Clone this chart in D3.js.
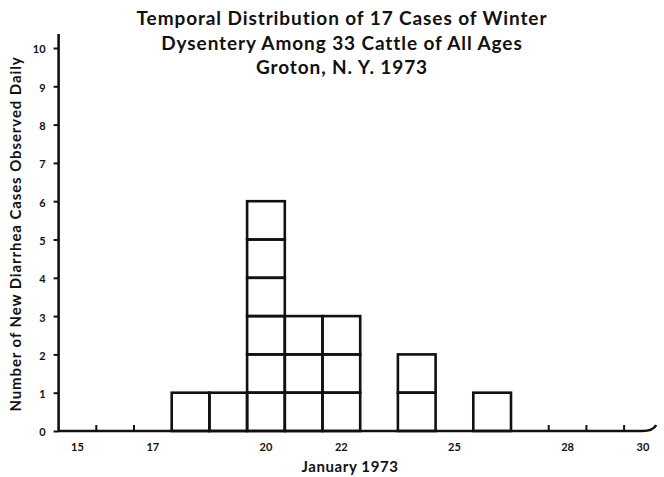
<!DOCTYPE html>
<html>
<head>
<meta charset="utf-8">
<script src="https://cdn.jsdelivr.net/npm/d3@7"></script>
<style>
  body { margin: 0; background: #fff; }
  svg { display: block; }
  text { font-family: Lato, "DejaVu Sans", sans-serif; font-weight: bold; fill: #111; }
</style>
</head>
<body>
<svg id="chart" width="664" height="477"></svg>
<script>
// cases per day, January 1973
const days = [18, 19, 20, 21, 22, 24, 26];
const cases = [1, 1, 6, 3, 3, 2, 1];
const xTickLabels = [15, 17, 20, 22, 25, 28, 30];
const xTickMarks = [16, 17, 28, 29, 30];
const yTicks = [0, 1, 2, 3, 4, 5, 6, 7, 8, 9, 10];
const titleLines = [
  'Temporal Distribution of 17 Cases of Winter',
  'Dysentery Among 33 Cattle of All Ages',
  'Groton, N. Y. 1973'
];

const svg = d3.select('#chart');

// each day is one band, left edge of day 15 at the y axis
const x = d3.scaleLinear().domain([15, 31]).range([58.6, 661.8]);
const y = d3.scaleLinear().domain([0, 10]).range([431, 48]);

const ink = '#111';

// one box per case
const boxes = [];
days.forEach((d, i) => {
  for (let k = 0; k < cases[i]; k++) boxes.push({ day: d, level: k });
});

svg.append('g')
  .selectAll('rect')
  .data(boxes)
  .enter()
  .append('rect')
  .attr('x', (d) => x(d.day))
  .attr('y', (d) => y(d.level + 1))
  .attr('width', x(d3.min(days) + 1) - x(d3.min(days)))
  .attr('height', y(0) - y(1))
  .attr('fill', 'none')
  .attr('stroke', ink)
  .attr('stroke-width', 2.6);

// y axis
const yAxis = d3.axisLeft(y).tickValues(yTicks).tickSize(5).tickPadding(8);
const gy = svg.append('g')
  .attr('transform', `translate(${x(15)}, 0)`)
  .call(yAxis);
gy.select('.domain').remove();
gy.selectAll('.tick line').attr('stroke', ink).attr('stroke-width', 2);
gy.selectAll('.tick text').attr('font-size', 11).attr('dy', '0.45em');
svg.append('line')
  .attr('x1', x(15)).attr('x2', x(15))
  .attr('y1', 34).attr('y2', y(0) + 1)
  .attr('stroke', ink).attr('stroke-width', 2.6);

// x axis baseline with the slight upturn at the right end
const xEnd = x(30.85);
svg.append('path')
  .attr('d', `M${x(15)},${y(0)} L${xEnd - 14},${y(0)} Q${xEnd - 3},${y(0)} ${xEnd},${y(0) - 6}`)
  .attr('fill', 'none')
  .attr('stroke', ink)
  .attr('stroke-width', 2.6);

svg.append('g')
  .selectAll('line')
  .data(xTickMarks)
  .enter()
  .append('line')
  .attr('x1', (d) => x(d)).attr('x2', (d) => x(d))
  .attr('y1', y(0)).attr('y2', y(0) - 6)
  .attr('stroke', ink).attr('stroke-width', 2);

svg.append('g')
  .selectAll('text')
  .data(xTickLabels)
  .enter()
  .append('text')
  .attr('x', (d) => x(d + 0.5))
  .attr('y', 451)
  .attr('text-anchor', 'middle')
  .attr('font-size', 11)
  .text((d) => d);

// axis titles
svg.append('text')
  .attr('x', 350)
  .attr('y', 472)
  .attr('text-anchor', 'middle')
  .attr('font-size', 15)
  .attr('letter-spacing', 0.6)
  .text('January 1973');

svg.append('text')
  .attr('transform', 'translate(21, 234) rotate(-90)')
  .attr('text-anchor', 'middle')
  .attr('font-size', 15)
  .attr('letter-spacing', 0.9)
  .text('Number of New Diarrhea Cases Observed Daily');

// title
svg.append('g')
  .selectAll('text')
  .data(titleLines)
  .enter()
  .append('text')
  .attr('x', 342)
  .attr('y', (d, i) => 25 + i * 24.5)
  .attr('text-anchor', 'middle')
  .attr('font-size', 19)
  .attr('letter-spacing', 0.9)
  .text((d) => d);
</script>
</body>
</html>
